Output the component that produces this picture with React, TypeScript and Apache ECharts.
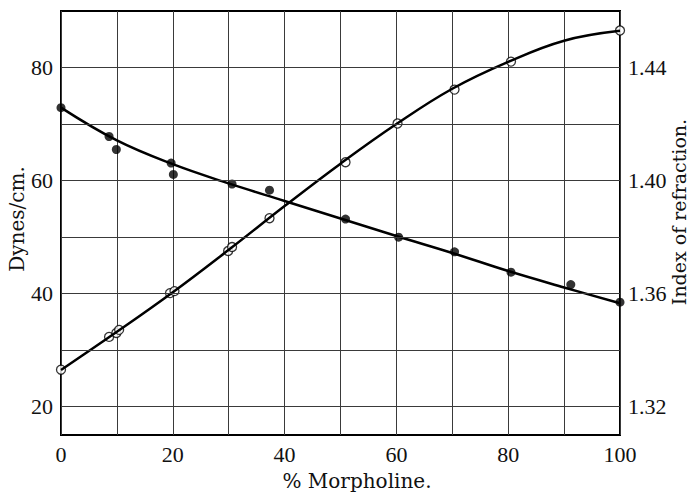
import React, { useEffect, useRef } from "react";
import * as echarts from "echarts";

// Smooth fitted curves
const curveX = [0, 10, 20, 30, 40, 50, 60, 70, 80, 90, 100];
const tensionCurve = [72.9, 67.1, 62.9, 59.5, 56.4, 53.3, 50.2, 47.2, 44.0, 41.1, 38.3];
const indexCurve = [1.333, 1.3465, 1.3605, 1.3755, 1.391, 1.406, 1.42, 1.4325, 1.442, 1.4495, 1.453];

// Measured points: surface tension (filled circles, left axis)
const tensionX = [0, 8.6, 9.9, 19.7, 20.1, 30.6, 37.3, 50.9, 60.4, 70.4, 80.5, 91.2, 100];
const tensionY = [72.9, 67.8, 65.5, 63.1, 61.1, 59.4, 58.3, 53.2, 50.0, 47.4, 43.8, 41.6, 38.5];

// Measured points: index of refraction (open circles, right axis)
const indexX = [0, 8.6, 9.9, 10.4, 19.5, 20.3, 29.9, 30.6, 37.3, 50.9, 60.2, 70.4, 80.5, 100];
const indexY = [1.3331, 1.3447, 1.3461, 1.3472, 1.3602, 1.3609, 1.3751, 1.3765, 1.3867, 1.4065, 1.4202, 1.4322, 1.4421, 1.4531];

// Axis ticks
const leftLabels = [20, 40, 60, 80];
const rightLabels = [1.32, 1.36, 1.4, 1.44];
const hGrid = [20, 30, 40, 50, 60, 70, 80];

const tickFont = { fontFamily: "Liberation Serif", fontSize: 22, color: "#111" };
const titleFont = "DejaVu Serif";

export default function App() {
  const ref = useRef<HTMLDivElement>(null);
  useEffect(() => {
    document.body.style.margin = "0";
    const chart = echarts.init(ref.current!, null, { renderer: "svg" });
    const gridColor = "#3a3a3a";
    chart.setOption({
      animation: false,
      backgroundColor: "#fff",
      grid: { left: 61, right: 70, top: 11, bottom: 58, show: true, borderColor: "#000", borderWidth: 2, backgroundColor: "transparent" },
      xAxis: {
        type: "value",
        min: 0,
        max: 100,
        interval: 10,
        axisLine: { show: false },
        axisTick: { show: false },
        splitLine: { show: true, lineStyle: { color: gridColor, width: 1 } },
        axisLabel: {
          ...tickFont,
          margin: 8,
          formatter: (v: number) => (v % 20 === 0 ? String(v) : ""),
        },
      },
      yAxis: [
        {
          type: "value",
          min: 15,
          max: 90,
          axisLine: { show: false },
          axisTick: { show: false },
          splitLine: { show: false },
          axisLabel: { ...tickFont, margin: 8, customValues: leftLabels },
        },
        {
          type: "value",
          min: 1.31,
          max: 1.46,
          position: "right",
          axisLine: { show: false },
          axisTick: { show: false },
          splitLine: { show: false },
          axisLabel: {
            ...tickFont,
            margin: 8,
            customValues: rightLabels,
            formatter: (v: number) => v.toFixed(2),
          },
        },
      ],
      graphic: [
        {
          type: "text",
          x: 17,
          y: 219,
          rotation: Math.PI / 2,
          style: { text: "Dynes/cm.", fontFamily: titleFont, fontSize: 20, fill: "#111", align: "center", verticalAlign: "middle" },
        },
        {
          type: "text",
          x: 679,
          y: 212,
          rotation: Math.PI / 2,
          style: { text: "Index of refraction.", fontFamily: titleFont, fontSize: 19, fill: "#111", align: "center", verticalAlign: "middle" },
        },
        {
          type: "text",
          x: 357,
          y: 481,
          style: { text: "% Morpholine.", fontFamily: titleFont, fontSize: 20, fill: "#111", align: "center", verticalAlign: "middle" },
        },
      ],
      series: [
        {
          type: "line",
          yAxisIndex: 0,
          data: curveX.map((x, i) => [x, tensionCurve[i]]),
          smooth: 0.4,
          showSymbol: false,
          lineStyle: { color: "#000", width: 2.5 },
          silent: true,
          markLine: {
            silent: true,
            symbol: ["none", "none"],
            label: { show: false },
            lineStyle: { color: gridColor, width: 1, type: "solid" },
            data: hGrid.map((v) => ({ yAxis: v })),
          },
        },
        {
          type: "line",
          yAxisIndex: 1,
          data: curveX.map((x, i) => [x, indexCurve[i]]),
          smooth: 0.4,
          showSymbol: false,
          lineStyle: { color: "#000", width: 2.5 },
          silent: true,
        },
        {
          type: "scatter",
          yAxisIndex: 0,
          data: tensionX.map((x, i) => [x, tensionY[i]]),
          symbol: "circle",
          symbolSize: 9,
          itemStyle: { color: "#000" },
          clip: false,
        },
        {
          type: "scatter",
          yAxisIndex: 1,
          data: indexX.map((x, i) => [x, indexY[i]]),
          symbol: "circle",
          symbolSize: 9,
          itemStyle: { color: "#fff", borderColor: "#000", borderWidth: 1.3 },
          clip: false,
        },
      ],
    });
    return () => chart.dispose();
  }, []);
  return <div ref={ref} style={{ position: "fixed", left: 0, top: 0, width: 690, height: 493 }} />;
}
